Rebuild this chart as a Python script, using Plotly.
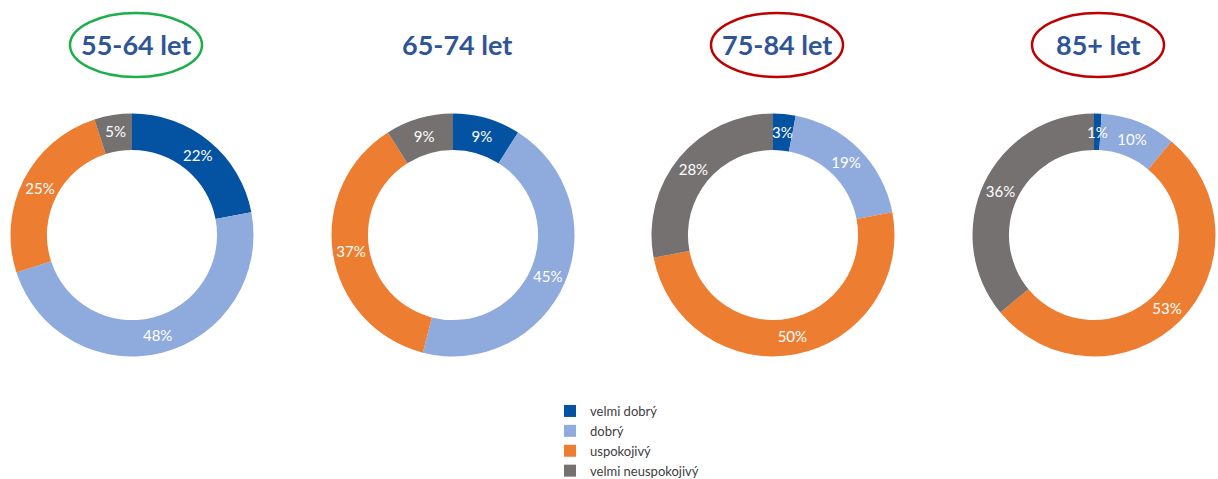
import math
import plotly.graph_objects as go

W, H = 1218, 479

categories = ["velmi dobrý", "dobrý", "uspokojivý", "velmi neuspokojivý"]
groups = ["55-64 let", "65-74 let", "75-84 let", "85+ let"]
v_55_64 = [22, 48, 25, 5]
v_65_74 = [9, 45, 37, 9]
v_75_84 = [3, 19, 50, 28]
v_85_plus = [1, 10, 53, 36]
series = [v_55_64, v_65_74, v_75_84, v_85_plus]

colors = ["#0453A3", "#8FAADC", "#ED7D31", "#767171"]
highlight = [("#1DAF4B", 0), ("#C00000", 2), ("#C00000", 3)]

centers_px = [132, 453, 773, 1094]
cy_px = 235
R = 121.5
HOLE = 0.70
SMALL = 4  # slices too thin for plotly's inside text

label_font = dict(family="Lato", size=15, color="white")

fig = go.Figure()
for i, (g, vals) in enumerate(zip(groups, series)):
    cx = centers_px[i]
    fig.add_trace(go.Pie(
        labels=categories,
        values=vals,
        name=g,
        hole=HOLE,
        sort=False,
        direction="clockwise",
        rotation=0,
        marker=dict(colors=colors, line=dict(width=0)),
        texttemplate="%{value}%",
        textposition=["inside" if v > SMALL else "none" for v in vals],
        insidetextorientation="horizontal",
        textfont=label_font,
        hoverinfo="label+value",
        domain=dict(x=[(cx - R) / W, (cx + R) / W],
                    y=[1 - (cy_px + R) / H, 1 - (cy_px - R) / H]),
        showlegend=(i == 0),
    ))
    # labels for thin slices, at the middle of the ring
    total = sum(vals)
    cum = 0
    rm = R * (1 + HOLE) / 2
    for v in vals:
        if v <= SMALL:
            a = 2 * math.pi * (cum + v / 2) / total
            px = cx + rm * math.sin(a)
            py = cy_px - rm * math.cos(a)
            fig.add_annotation(
                x=px / W, y=1 - py / H, xref="paper", yref="paper",
                text=f"{v}%", showarrow=False, font=label_font,
                xanchor="center", yanchor="middle",
            )
        cum += v
    fig.add_annotation(
        x=(cx + 4) / W, y=1 - 44 / H, xref="paper", yref="paper",
        text=f"<b>{g}</b>", showarrow=False,
        font=dict(family="Lato", size=27, color="#2F5597"),
        xanchor="center", yanchor="middle",
    )

for col, idx in highlight:
    cx = centers_px[idx] + 4
    fig.add_shape(
        type="circle", xref="paper", yref="paper",
        x0=(cx - 66) / W, x1=(cx + 66) / W,
        y0=1 - 77 / H, y1=1 - 13 / H,
        line=dict(color=col, width=2.5),
    )

fig.update_layout(
    width=W, height=H,
    margin=dict(l=0, r=0, t=0, b=0, autoexpand=False),
    paper_bgcolor="white",
    plot_bgcolor="white",
    uniformtext=dict(minsize=15, mode="show"),
    legend=dict(
        x=550 / W, y=1 - 396 / H, xanchor="left", yanchor="top",
        orientation="v",
        font=dict(family="Lato", size=13, color="#404040"),
        itemsizing="constant",
        tracegroupgap=0,
        bgcolor="rgba(0,0,0,0)",
    ),
)

fig.write_html("out.html",
               config={"displayModeBar": False},
               post_script="document.body.style.margin='0';document.body.style.overflow='hidden';")
